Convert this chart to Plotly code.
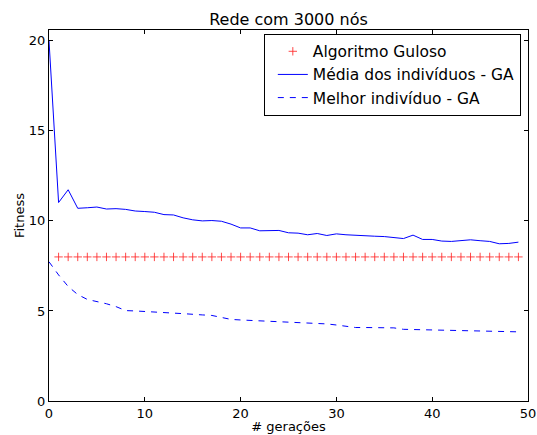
import plotly.graph_objects as go

# Generation index
geracoes = list(range(50))

# Greedy algorithm fitness (constant), plotted from generation 1
guloso_x = list(range(1, 50))
guloso_y = [8.0] * len(guloso_x)

# Mean fitness of the GA population per generation
media_ga = [20.0, 11.02, 11.73, 10.70, 10.73, 10.77, 10.66, 10.68, 10.64, 10.55,
            10.52, 10.48, 10.35, 10.33, 10.17, 10.06, 10.00, 10.02, 9.98, 9.82,
            9.61, 9.61, 9.45, 9.45, 9.47, 9.34, 9.32, 9.23, 9.30, 9.19,
            9.28, 9.23, 9.19, 9.17, 9.15, 9.13, 9.06, 9.02, 9.21, 8.97,
            8.97, 8.88, 8.86, 8.90, 8.95, 8.90, 8.86, 8.73, 8.75, 8.82]

# Best individual of the GA per generation
melhor_ga = [7.73, 7.00, 6.36, 5.91, 5.64, 5.53, 5.40, 5.24, 5.02, 5.00,
             4.98, 4.96, 4.92, 4.88, 4.85, 4.80, 4.78, 4.75, 4.62, 4.53,
             4.50, 4.48, 4.46, 4.42, 4.40, 4.37, 4.35, 4.33, 4.31, 4.28,
             4.22, 4.13, 4.08, 4.08, 4.08, 4.08, 4.06, 3.98, 3.97, 3.97,
             3.95, 3.95, 3.93, 3.93, 3.91, 3.89, 3.87, 3.86, 3.84, 3.84]

font_family = "DejaVu Sans"

fig = go.Figure()
fig.add_trace(go.Scatter(
    x=guloso_x, y=guloso_y, mode="markers", name="Algoritmo Guloso",
    marker=dict(symbol="cross-thin", size=6, color="red",
                line=dict(color="rgba(255,40,40,0.85)", width=1)),
))
fig.add_trace(go.Scatter(
    x=geracoes, y=media_ga, mode="lines", name="Média dos indivíduos - GA",
    line=dict(color="#0000ff", width=1),
))
fig.add_trace(go.Scatter(
    x=geracoes, y=melhor_ga, mode="lines", name="Melhor indivíduo - GA",
    line=dict(color="#0000ff", width=1, dash="6px,6px"),
))

axis_common = dict(
    showgrid=False, zeroline=False, showline=True, linecolor="black",
    linewidth=1, mirror="ticks", ticks="inside", ticklen=4, tickwidth=1,
    tickcolor="black", automargin=False,
    tickfont=dict(family=font_family, size=13, color="black"),
)

fig.update_layout(
    width=537, height=435,
    margin=dict(l=49, r=9, t=30, b=34),
    paper_bgcolor="white", plot_bgcolor="white",
    font=dict(family=font_family, color="black"),
    title=dict(text="Rede com 3000 nós", xref="paper", x=0.5, xanchor="center",
               y=1 - 19 / 435, yanchor="middle",
               font=dict(family=font_family, size=16, color="black")),
    xaxis=dict(range=[0, 50], dtick=10, tick0=0,
               title=dict(text="# gerações", standoff=2,
                          font=dict(family=font_family, size=13)),
               **axis_common),
    yaxis=dict(range=[0, 20.6], dtick=5, tick0=0,
               title=dict(text="Fitness", standoff=1,
                          font=dict(family=font_family, size=13)),
               **axis_common),
    legend=dict(x=0.985, y=0.99, xanchor="right", yanchor="top",
                indentation=8,
                bgcolor="white", bordercolor="black", borderwidth=1,
                font=dict(family=font_family, size=15.5, color="black")),
    showlegend=True,
)

fig.write_html("out.html")
